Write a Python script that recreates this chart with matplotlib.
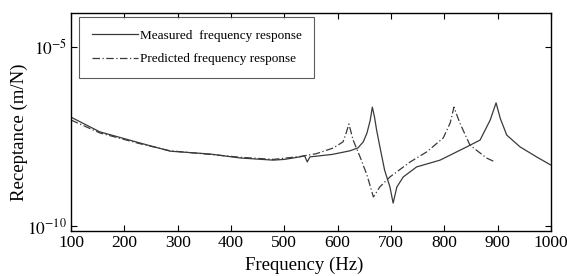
import numpy as np
import matplotlib
matplotlib.use("Agg")
import matplotlib.pyplot as plt
from matplotlib.ticker import FixedLocator, NullLocator

# Measured frequency response (Hz, log10 receptance)
meas_f = [100, 154, 229, 286, 361, 417, 479, 500, 529, 538, 543, 548, 590, 623, 638, 648, 655, 661, 665, 669, 673, 680, 688, 698, 704, 711, 723, 748, 792, 842, 867, 886, 897, 905, 917, 942, 973, 1000]
meas_log = [-6.96, -7.37, -7.68, -7.91, -7.99, -8.10, -8.16, -8.14, -8.07, -8.04, -8.21, -8.07, -8.00, -7.90, -7.82, -7.65, -7.40, -7.05, -6.68, -6.95, -7.32, -7.85, -8.44, -8.91, -9.36, -8.91, -8.63, -8.35, -8.16, -7.79, -7.60, -7.04, -6.56, -7.00, -7.46, -7.79, -8.07, -8.30]

# Predicted frequency response
pred_f = [100, 154, 229, 286, 361, 417, 479, 529, 560, 592, 610, 616, 621, 629, 642, 655, 667, 679, 698, 736, 767, 798, 811, 818, 829, 848, 879, 895]
pred_log = [-7.04, -7.40, -7.70, -7.90, -8.00, -8.08, -8.14, -8.06, -7.98, -7.82, -7.65, -7.40, -7.15, -7.60, -8.07, -8.58, -9.19, -8.91, -8.63, -8.21, -7.93, -7.54, -7.12, -6.68, -7.12, -7.74, -8.10, -8.21]

xticks = [100, 200, 300, 400, 500, 600, 700, 800, 900, 1000]
yticks = [1e-10, 1e-5]

plt.rcParams['font.family'] = ['Liberation Serif', 'DejaVu Serif']
plt.rcParams['mathtext.fontset'] = 'stix'

fig = plt.figure(figsize=(5.67, 2.76), dpi=100)
ax = fig.add_axes([71/567, 1 - 231/276, 480/567, 218/276])

ax.semilogy(meas_f, 10 ** np.array(meas_log), color='#3a3a3a', lw=0.9, ls='-',
            label='Measured  frequency response')
ax.semilogy(pred_f, 10 ** np.array(pred_log), color='#3a3a3a', lw=0.9, ls=(0, (6, 2, 1, 2)),
            label='Predicted frequency response')

ax.set_xlim(100, 1000)
ax.set_ylim(10 ** -10.14, 10 ** -4.05)
ax.xaxis.set_major_locator(FixedLocator(xticks))
ax.yaxis.set_major_locator(FixedLocator(yticks))
ax.yaxis.set_minor_locator(NullLocator())
ax.set_yticklabels([r'$10^{-10}$', r'$10^{-5}$'])
ax.tick_params(direction='in', top=True, right=True, labelsize=12.5, length=4, width=0.8, pad=3)
for s in ax.spines.values():
    s.set_linewidth(1.0)

ax.set_xlabel('Frequency (Hz)', fontsize=13.5)
ax.set_ylabel('Receptance (m/N)', fontsize=13.5)
ax.xaxis.set_label_coords(0.485, -0.12)
ax.yaxis.set_label_coords(-0.09, 0.455)

leg = ax.legend(loc='upper left', fontsize=9.5, frameon=True, fancybox=False,
                edgecolor='#333333', handlelength=3.5,
                borderpad=0.95, labelspacing=0.85,
                handletextpad=0.15, borderaxespad=0, bbox_to_anchor=(0.017, 0.982))
leg.get_frame().set_linewidth(0.8)

fig.savefig('out.png', dpi=100)
